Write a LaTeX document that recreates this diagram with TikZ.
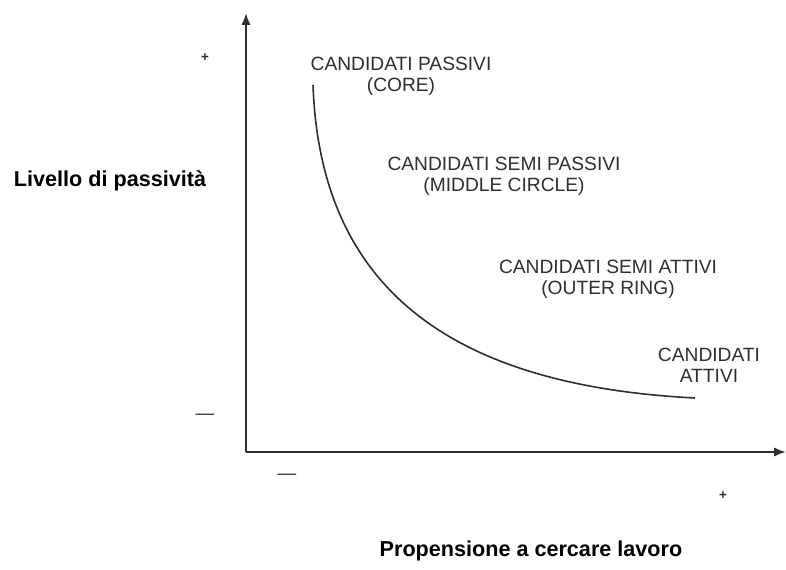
\documentclass[tikz,border=0pt]{standalone}
\usepackage{fontspec}
\setmainfont{Liberation Sans}
\usetikzlibrary{arrows.meta}
\definecolor{ink}{HTML}{2E2E2E}
\begin{document}
\begin{tikzpicture}[x=0.75pt,y=-0.75pt,
  axis/.style={draw=ink,line width=1.5pt,-{Latex[length=9pt,width=7pt]}},
  curve/.style={draw=ink,line width=1.2pt},
  zone/.style={text=ink,font=\fontsize{14.4}{15.8}\selectfont,align=center,inner sep=0pt},
  axlabel/.style={text=black,font=\bfseries\fontsize{16.2}{18}\selectfont,inner sep=0pt},
  tick/.style={text=ink,font=\bfseries\fontsize{10}{12}\selectfont,inner sep=0pt},
  dashmark/.style={text=ink,font=\fontsize{14}{14}\selectfont,inner sep=0pt}]
\useasboundingbox (0,0) rectangle (786,570);
% axes
\coordinate (O) at (246,452);
\coordinate (ytop) at (246,13);
\coordinate (xend) at (786,452);
\draw[axis] (O) -- (ytop);
\draw[axis] (O) -- (xend);
% curve
\coordinate (c0) at (313,85);
\coordinate (c1) at (695,398);
\draw[curve] (c0) .. controls (320,280) and (440,385) .. (c1);
% zone labels
\node[zone] (passivi) at (401,76) {CANDIDATI PASSIVI\\(CORE)};
\node[zone] (semipass) at (504,176) {CANDIDATI SEMI PASSIVI\\(MIDDLE CIRCLE)};
\node[zone] (semiatt) at (608,279) {CANDIDATI SEMI ATTIVI\\(OUTER RING)};
\node[zone] (attivi) at (709,365) {CANDIDATI\\ATTIVI};
% axis labels
\node[axlabel] (ylab) at (110,181) {Livello di passività};
\node[axlabel] (xlab) at (531,551) {Propensione a cercare lavoro};
% scale marks
\node[tick] (yplus) at (205,58) {+};
\node[dashmark] (yminus) at (205,417) {---};
\node[dashmark] (xminus) at (287,477) {---};
\node[tick] (xplus) at (723,496) {+};
\end{tikzpicture}
\end{document}
